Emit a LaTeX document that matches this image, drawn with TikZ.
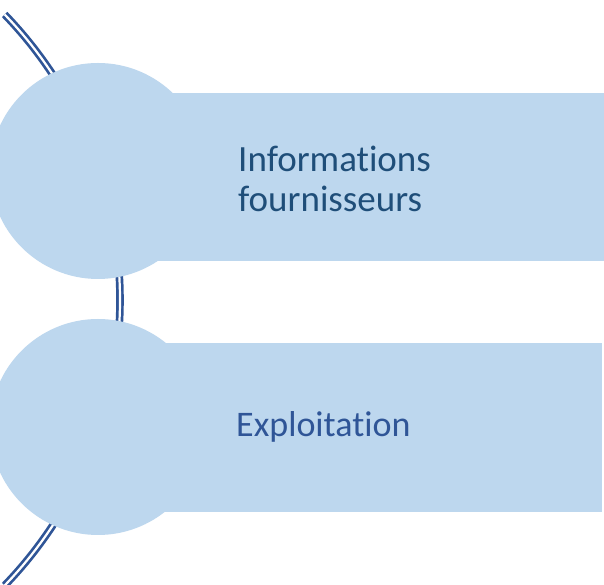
\documentclass[tikz,border=0pt]{standalone}
\usepackage{fontspec}
\setmainfont{Carlito}[Ligatures=NoCommon]
\definecolor{boxfill}{HTML}{BDD7EE}
\definecolor{arcblue}{HTML}{2F5597}
\definecolor{textone}{HTML}{1F4E79}
\definecolor{texttwo}{HTML}{2F5597}
\begin{document}
\begin{tikzpicture}[x=1pt,y=1pt,
  bubble/.style={circle,fill=boxfill,draw=none,minimum size=216pt,inner sep=0pt},
  band/.style={rectangle,fill=boxfill,draw=none,inner sep=0pt,anchor=south west},
  label/.style={font=\fontsize{36}{40}\selectfont,inner sep=0pt,align=left},
  spine/.style={draw=arcblue,line width=2.7pt,double=white,double distance=2.2pt,line cap=butt}]
\useasboundingbox (0,0) rectangle (604,585);
\clip (0,0) rectangle (604,585);
\fill[white] (0,0) rectangle (604,585);
% spine arc
\coordinate (arcc) at (-291,285);
\draw[spine] (arcc) ++(44:411) arc[start angle=44,end angle=-44,radius=411];
% row 1
\node[band,minimum width=506pt,minimum height=168pt] (r1) at (98,324) {};
\node[bubble] (c1) at (98,414) {};
\node[label,font=\fontsize{37}{39.5}\selectfont,text=textone,anchor=west] (t1) at (238,406) {Informations\\fournisseurs};
% row 2
\node[band,minimum width=504pt,minimum height=169pt] (r2) at (98,73) {};
\node[bubble] (c2) at (98,158) {};
\node[label,text=texttwo,anchor=base west] (t2) at (236,148) {Exploitation};
\end{tikzpicture}
\end{document}
